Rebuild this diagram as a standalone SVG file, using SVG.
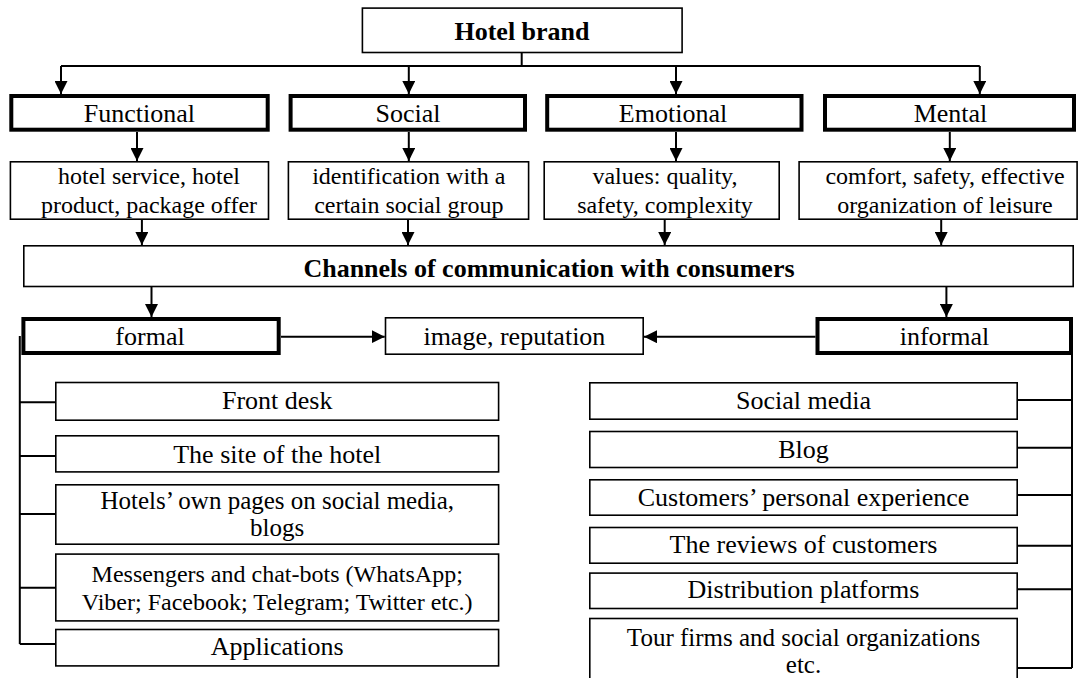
<svg xmlns="http://www.w3.org/2000/svg" width="1079" height="678" viewBox="0 0 1079 678">
<defs>
<style>
.thin{fill:#fff;stroke:#000;stroke-width:1.6}
.thick{fill:#fff;stroke:#000;stroke-width:4}
.ln{fill:none;stroke:#000;stroke-width:2}
text{font-family:"Liberation Serif","Times New Roman",serif;fill:#000;text-anchor:middle}
.t26{font-size:26px}
.t25{font-size:25px}
.t24{font-size:24px}
.b26{font-size:26px;font-weight:bold}
</style>
<marker id="ah" markerUnits="userSpaceOnUse" viewBox="0 0 13 13" refX="13" refY="6.5" markerWidth="13" markerHeight="13" orient="auto">
<path d="M0,0 L13,6.5 L0,13 z" fill="#000"/>
</marker>
</defs>
<rect width="1079" height="678" fill="#fff"/>

<g id="connectors">
<path class="ln" d="M521.7,53 V66"/>
<path class="ln" d="M61,66 H979.8"/>
<path class="ln" d="M61,66 V94" marker-end="url(#ah)"/>
<path class="ln" d="M408.8,66 V94" marker-end="url(#ah)"/>
<path class="ln" d="M676,66 V94" marker-end="url(#ah)"/>
<path class="ln" d="M979.8,66 V94" marker-end="url(#ah)"/>
<path class="ln" d="M137,132 V161" marker-end="url(#ah)"/>
<path class="ln" d="M408.8,132 V161" marker-end="url(#ah)"/>
<path class="ln" d="M676,132 V161" marker-end="url(#ah)"/>
<path class="ln" d="M949.8,132 V161" marker-end="url(#ah)"/>
<path class="ln" d="M141.9,220 V245" marker-end="url(#ah)"/>
<path class="ln" d="M408,220 V245" marker-end="url(#ah)"/>
<path class="ln" d="M664.7,220 V245" marker-end="url(#ah)"/>
<path class="ln" d="M941.2,220 V245" marker-end="url(#ah)"/>
<path class="ln" d="M151.5,287 V317" marker-end="url(#ah)"/>
<path class="ln" d="M946.4,287 V317" marker-end="url(#ah)"/>
<path class="ln" d="M281,336.7 H384.7" marker-end="url(#ah)"/>
<path class="ln" d="M815.5,336.7 H644" marker-end="url(#ah)"/>
<path class="ln" d="M19.8,336 V644 M19.8,402.3 H55 M19.8,456 H55 M19.8,514 H55 M19.8,587.7 H55 M19.8,644 H55"/>
<path class="ln" d="M1072,336 V668 M1018,400 H1072 M1018,447.7 H1072 M1018,495 H1072 M1018,545.7 H1072 M1018,589.3 H1072 M1018,668 H1072"/>
</g>

<g id="hotel-brand"><rect class="thin" x="362.4" y="8.1" width="319.7" height="44.4"/><text class="b26" x="522" y="40">Hotel brand</text></g>

<g id="functional"><rect class="thick" x="11.3" y="96" width="256.4" height="33.7"/><text class="t26" x="139.3" y="122">Functional</text></g>
<g id="social"><rect class="thick" x="290.6" y="96" width="234.4" height="33.7"/><text class="t26" x="408" y="122">Social</text></g>
<g id="emotional"><rect class="thick" x="547.2" y="96" width="254.3" height="33.7"/><text class="t26" x="673" y="122">Emotional</text></g>
<g id="mental"><rect class="thick" x="825" y="96" width="249" height="33.7"/><text class="t26" x="950.5" y="122">Mental</text></g>

<g id="desc-functional"><rect class="thin" x="10.4" y="161.8" width="258.1" height="57.4"/><text class="t24" x="149" y="184">hotel service, hotel</text><text class="t24" x="149" y="212.7">product, package offer</text></g>
<g id="desc-social"><rect class="thin" x="288.4" y="161.8" width="240.2" height="57.4"/><text class="t24" x="408.8" y="184">identification with a</text><text class="t24" x="408.8" y="212.7">certain social group</text></g>
<g id="desc-emotional"><rect class="thin" x="544.2" y="161.8" width="235" height="57.4"/><text class="t24" x="665" y="184">values: quality,</text><text class="t24" x="665" y="212.7">safety, complexity</text></g>
<g id="desc-mental"><rect class="thin" x="799.1" y="161.8" width="278" height="57.4"/><text class="t24" x="945" y="184">comfort, safety, effective</text><text class="t24" x="945" y="212.7">organization of leisure</text></g>

<g id="channels"><rect class="thin" x="23.8" y="245.8" width="1049.4" height="40.7"/><text class="b26" x="549" y="277.3">Channels of communication with consumers</text></g>

<g id="formal"><rect class="thick" x="23.4" y="319" width="255.3" height="34"/><text class="t26" x="150" y="345">formal</text></g>
<g id="image-reputation"><rect class="thin" x="385.5" y="317.8" width="257.7" height="36.4"/><text class="t26" x="514.4" y="345">image, reputation</text></g>
<g id="informal"><rect class="thick" x="817.5" y="319" width="253.5" height="34"/><text class="t26" x="944.5" y="345">informal</text></g>

<g id="front-desk"><rect class="thin" x="55.8" y="382.5" width="442.8" height="37.7"/><text class="t26" x="277.2" y="409.3">Front desk</text></g>
<g id="site"><rect class="thin" x="55.8" y="435.8" width="442.8" height="36.1"/><text class="t26" x="277.2" y="462.7">The site of the hotel</text></g>
<g id="own-pages"><rect class="thin" x="55.8" y="484.8" width="442.8" height="59.4"/><text class="t25" x="277.2" y="509">Hotels’ own pages on social media,</text><text class="t25" x="277.2" y="535.5">blogs</text></g>
<g id="messengers"><rect class="thin" x="55.8" y="554.1" width="442.8" height="66.8"/><text class="t24" x="277.2" y="581.7">Messengers and chat-bots (WhatsApp;</text><text class="t24" x="277.2" y="610">Viber; Facebook; Telegram; Twitter etc.)</text></g>
<g id="applications"><rect class="thin" x="55.8" y="629.5" width="442.8" height="36.4"/><text class="t26" x="277.2" y="655">Applications</text></g>

<g id="social-media"><rect class="thin" x="589.8" y="382.8" width="427.4" height="36.4"/><text class="t26" x="803.5" y="409.3">Social media</text></g>
<g id="blog"><rect class="thin" x="589.8" y="431.5" width="427.4" height="36"/><text class="t26" x="803.5" y="458.3">Blog</text></g>
<g id="personal-experience"><rect class="thin" x="589.8" y="479.8" width="427.4" height="35.4"/><text class="t26" x="803.5" y="505.7">Customers’ personal experience</text></g>
<g id="reviews"><rect class="thin" x="589.8" y="527.5" width="427.4" height="35.7"/><text class="t26" x="803.5" y="553.3">The reviews of customers</text></g>
<g id="distribution"><rect class="thin" x="589.8" y="573.1" width="427.4" height="35.4"/><text class="t26" x="803.5" y="598.3">Distribution platforms</text></g>
<g id="tour-firms"><rect class="thin" x="589.8" y="618.5" width="427.4" height="80"/><text class="t25" x="803.5" y="646.2">Tour firms and social organizations</text><text class="t25" x="803.5" y="673">etc.</text></g>
</svg>
